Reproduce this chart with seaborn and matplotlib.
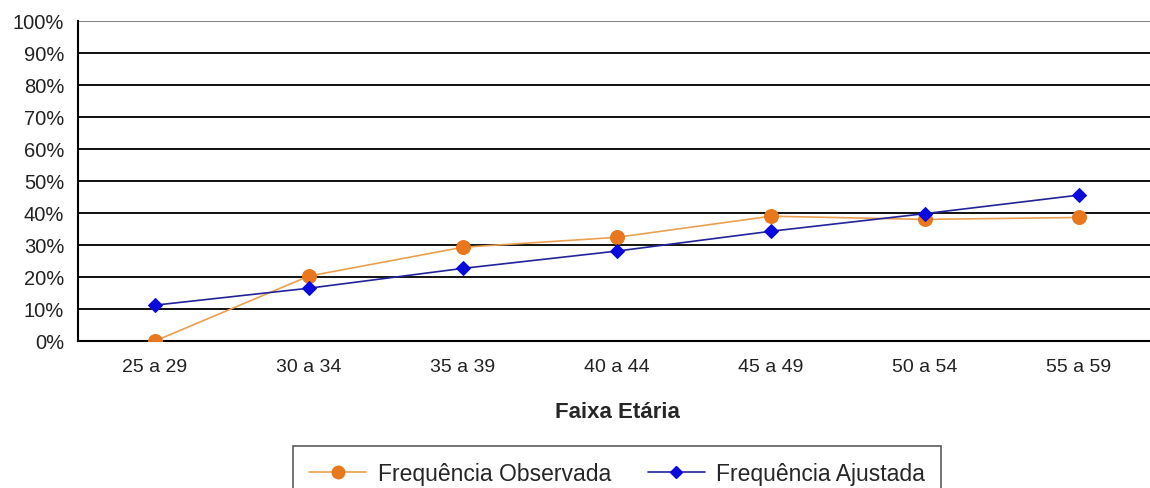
import numpy as np
import pandas as pd
import seaborn as sns
import matplotlib.pyplot as plt
from matplotlib.lines import Line2D

faixas = ["25 a 29", "30 a 34", "35 a 39", "40 a 44", "45 a 49", "50 a 54", "55 a 59"]
observada = [0.0, 20.3, 29.3, 32.4, 39.0, 38.0, 38.6]
ajustada = [11.2, 16.5, 22.7, 28.1, 34.3, 39.8, 45.6]

sns.set_style("white")
plt.rcParams['font.family'] = ['Liberation Sans', 'DejaVu Sans']

df = pd.DataFrame({
    'Faixa': faixas * 2,
    'valor': observada + ajustada,
    'serie': ['Frequência Observada'] * 7 + ['Frequência Ajustada'] * 7,
})

cor_obs = '#E8771E'
cor_aju = '#0A0ADC'
linha_obs = '#E9A050'
linha_aju = '#22229A'

fig = plt.figure(figsize=(11.5, 4.89), dpi=100)
ax = fig.add_axes([78 / 1150, 1 - 342 / 489, (1156 - 78) / 1150, 320 / 489])

# gridlines first so lines go on top
for v in range(10, 101, 10):
    ax.axhline(v, color='black' if v < 100 else '#777777', lw=1.3, zorder=1)

d1 = df[df['serie'] == 'Frequência Observada']
d2 = df[df['serie'] == 'Frequência Ajustada']
sns.lineplot(data=d1, x='Faixa', y='valor', ax=ax, color=linha_obs, lw=1.2,
             marker='o', markersize=10, markerfacecolor=cor_obs, markeredgecolor=cor_obs, zorder=3)
sns.lineplot(data=d2, x='Faixa', y='valor', ax=ax, color=linha_aju, lw=1.2,
             marker='D', markersize=7, markerfacecolor=cor_aju, markeredgecolor=cor_aju, zorder=4)

ax.set_xlim(-0.5, 6.5)
ax.set_ylim(0, 100)
ax.set_yticks(range(0, 101, 10))
ax.set_yticklabels([f"{v}%" for v in range(0, 101, 10)], fontsize=14.5, color='#222222')
ax.set_xticks(range(7))
ax.set_xticklabels(faixas, fontsize=14, color='#222222')
ax.set_xticks(np.arange(0.5, 6.6, 1), minor=True)
ax.tick_params(axis='x', which='major', length=0, pad=12)
ax.tick_params(axis='x', which='minor', length=6, width=1.2, color='black', direction='out')
ax.tick_params(axis='y', length=5, width=1.2, color='black', direction='out', pad=5)

for s in ['top', 'right']:
    ax.spines[s].set_visible(False)
for s in ['left', 'bottom']:
    ax.spines[s].set_color('black')
    ax.spines[s].set_linewidth(1.5)

ax.set_xlabel('')
ax.set_ylabel('')
fig.text(617 / 1150, 1 - 413 / 489, 'Faixa Etária', fontsize=16, fontweight='bold',
         ha='center', va='center')

handles = [
    Line2D([], [], color=linha_obs, lw=1.2, marker='o', markersize=9,
           markerfacecolor=cor_obs, markeredgecolor=cor_obs),
    Line2D([], [], color=linha_aju, lw=1.2, marker='D', markersize=6,
           markerfacecolor=cor_aju, markeredgecolor=cor_aju),
]
leg = fig.legend(handles, ['Frequência Observada', 'Frequência Ajustada'],
                 loc='upper left', bbox_to_anchor=(293 / 1150, 1 - 447 / 489),
                 ncol=2, fontsize=16.5, frameon=True, fancybox=False,
                 edgecolor='#333333', borderpad=0.7, borderaxespad=0,
                 handlelength=2.5, columnspacing=1.6, handletextpad=0.5)
leg.get_frame().set_linewidth(1.2)

fig.savefig('out.png', dpi=100)
